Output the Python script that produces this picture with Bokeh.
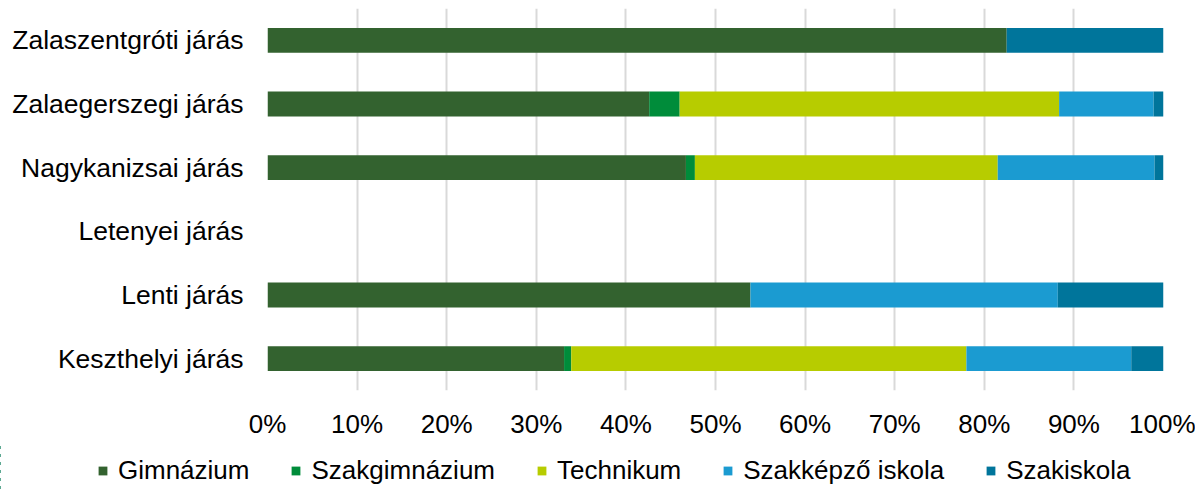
from bokeh.plotting import figure
from bokeh.layouts import column
from bokeh.models import ColumnDataSource, FactorRange, Range1d, Legend, LegendItem, NumeralTickFormatter, FixedTicker
from bokeh.embed import file_html
from bokeh.resources import INLINE

districts = ["Zalaszentgróti járás", "Zalaegerszegi járás", "Nagykanizsai járás",
             "Letenyei járás", "Lenti járás", "Keszthelyi járás"]
series = ["Gimnázium", "Szakgimnázium", "Technikum", "Szakképző iskola", "Szakiskola"]
gimnazium = [82.5, 42.6, 46.7, 0, 53.9, 33.1]
szakgimnazium = [0, 3.4, 1.0, 0, 0, 0.8]
technikum = [0, 42.35, 33.8, 0, 0, 44.1]
szakkepzo = [0, 10.55, 17.5, 0, 34.3, 18.4]
szakiskola = [17.5, 1.1, 1.0, 0, 11.9, 3.6]
colors = ["#33622f", "#008c3a", "#b7cc00", "#1b9bd1", "#00759b"]
x_ticks = [0, 10, 20, 30, 40, 50, 60, 70, 80, 90, 100]

keys = ["g", "sg", "t", "sk", "si"]
data = dict(district=districts, g=[v / 100 for v in gimnazium], sg=[v / 100 for v in szakgimnazium],
            t=[v / 100 for v in technikum], sk=[v / 100 for v in szakkepzo],
            si=[v / 100 for v in szakiskola])
source = ColumnDataSource(data)

FONT = "Liberation Sans"

p = figure(width=1195, height=443, output_backend="svg", toolbar_location=None,
           y_range=FactorRange(factors=list(reversed(districts)), range_padding=0),
           x_range=Range1d(0, 1))
p.min_border_left = 267
p.min_border_right = 32
p.min_border_top = 8
p.min_border_bottom = 53
p.outline_line_color = None

p.hbar_stack(keys, y="district", height=0.39, color=colors, source=source, line_color=None)

p.xaxis.ticker = FixedTicker(ticks=[t / 100 for t in x_ticks])
p.xaxis.formatter = NumeralTickFormatter(format="0%")
p.xaxis.axis_line_color = None
p.xaxis.major_tick_line_color = None
p.xaxis.minor_tick_line_color = None
p.xaxis.major_tick_out = 0
p.xaxis.major_tick_in = 0
p.xaxis.major_label_text_font = FONT
p.xaxis.major_label_text_font_size = "26px"
p.xaxis.major_label_text_color = "#000000"
p.xaxis.major_label_standoff = 18

p.yaxis.axis_line_color = None
p.yaxis.major_tick_line_color = None
p.yaxis.minor_tick_line_color = None
p.yaxis.major_tick_out = 0
p.yaxis.major_tick_in = 0
p.yaxis.major_label_text_font = FONT
p.yaxis.major_label_text_font_size = "26.5px"
p.yaxis.major_label_text_color = "#000000"
p.yaxis.major_label_standoff = 24

p.ygrid.grid_line_color = None
p.xgrid.grid_line_color = "#d9d9d9"
p.xgrid.grid_line_width = 2

# Legend strip (separate figure so the legend is not clipped)
p2 = figure(width=1195, height=48, output_backend="svg", toolbar_location=None,
            x_axis_location=None, y_axis_location=None,
            y_range=FactorRange(factors=list(reversed(districts))),
            x_range=Range1d(5, 6))
p2.min_border_left = 0
p2.min_border_right = 0
p2.min_border_top = 0
p2.min_border_bottom = 0
p2.outline_line_color = None
p2.grid.visible = False
if "frame_align" in p2.properties():
    p2.frame_align = False
    p.frame_align = False
leg_renderers = p2.hbar_stack(keys, y="district", height=0.39, color=colors, source=source,
                              line_color=None)

legend = Legend(items=[LegendItem(label=s, renderers=[r]) for s, r in zip(series, leg_renderers)],
                orientation="horizontal", location=(97, 5))
legend.label_text_font = FONT
legend.label_text_font_size = "26px"
legend.label_text_color = "#000000"
legend.label_height = 25
legend.glyph_width = 11
legend.glyph_height = 11
legend.label_standoff = 10
legend.spacing = 41
legend.border_line_color = None
legend.background_fill_alpha = 0
legend.padding = 0
legend.margin = 0
p2.add_layout(legend, "center")

layout = column(p, p2, spacing=0)
open("out.html", "w").write(file_html(layout, INLINE))
